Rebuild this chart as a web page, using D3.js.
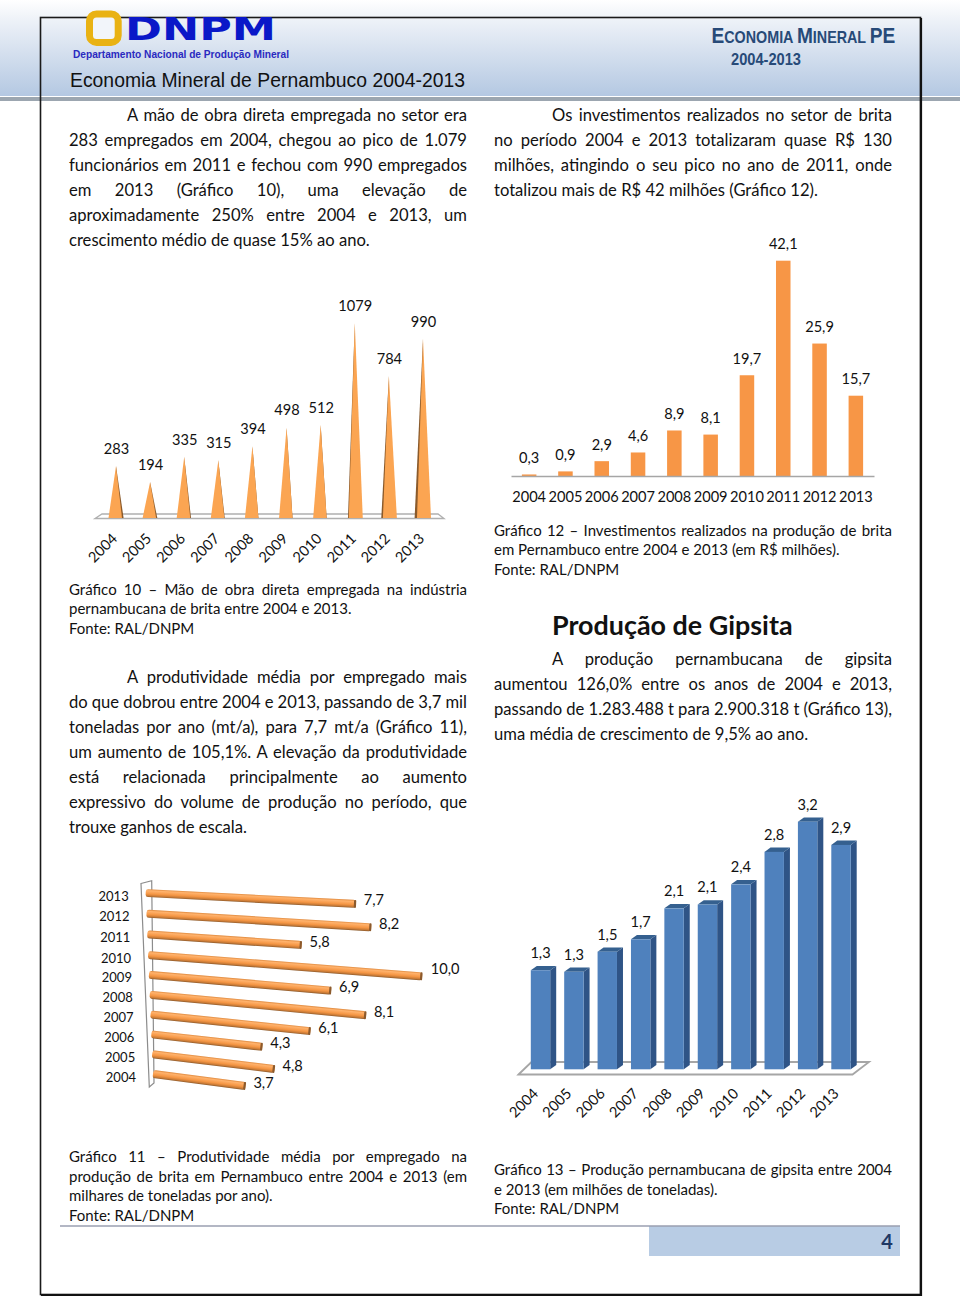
<!DOCTYPE html>
<html><head><meta charset="utf-8">
<script src="https://cdn.jsdelivr.net/npm/d3@7"></script>
<style>html,body{margin:0;background:#fff}svg{display:block}text{font-family:Lato,sans-serif;fill:#111}</style>
</head><body><svg id="p" width="960" height="1299"></svg>
<script>
const years=[2004,2005,2006,2007,2008,2009,2010,2011,2012,2013];
const workers=[283,194,335,315,394,498,512,1079,784,990];
const invest=[0.3,0.9,2.9,4.6,8.9,8.1,19.7,42.1,25.9,15.7];
const productivity=[3.7,4.8,4.3,6.1,8.1,6.9,10.0,5.8,8.2,7.7];
const gypsum=[1.28,1.26,1.52,1.68,2.08,2.13,2.39,2.81,3.2,2.9];
const comma=f=>v=>d3.format(f)(v).replace(".",",");

const B=16.6,C=15.0; // text sizes
// [text, column, centre y, indent, justified, size]
const textLines=[
["A mão de obra direta empregada no setor era",0,115,1,1,B],
["283 empregados em 2004, chegou ao pico de 1.079",0,140,0,1,B],
["funcionários em 2011 e fechou com 990 empregados",0,165,0,1,B],
["em 2013 (Gráfico 10), uma elevação de",0,190,0,1,B],
["aproximadamente 250% entre 2004 e 2013, um",0,215,0,1,B],
["crescimento médio de quase 15% ao ano.",0,240,0,0,B],
["Os investimentos realizados no setor de brita",1,115,1,1,B],
["no período 2004 e 2013 totalizaram quase R$ 130",1,140,0,1,B],
["milhões, atingindo o seu pico no ano de 2011, onde",1,165,0,1,B],
["totalizou mais de R$ 42 milhões (Gráfico 12).",1,190,0,0,B],
["Gráfico 10 – Mão de obra direta empregada na indústria",0,590,0,1,C],
["pernambucana de brita entre 2004 e 2013.",0,609,0,0,C],
["Fonte: RAL/DNPM",0,629,0,0,C],
["A produtividade média por empregado mais",0,677,1,1,B],
["do que dobrou entre 2004 e 2013, passando de 3,7 mil",0,702,0,1,B],
["toneladas por ano (mt/a), para 7,7 mt/a (Gráfico 11),",0,727,0,1,B],
["um aumento de 105,1%. A elevação da produtividade",0,752,0,1,B],
["está relacionada principalmente ao aumento",0,777,0,1,B],
["expressivo do volume de produção no período, que",0,802,0,1,B],
["trouxe ganhos de escala.",0,827,0,0,B],
["Gráfico 11 – Produtividade média por empregado na",0,1157,0,1,C],
["produção de brita em Pernambuco entre 2004 e 2013 (em",0,1177,0,1,C],
["milhares de toneladas por ano).",0,1196,0,0,C],
["Fonte: RAL/DNPM",0,1216,0,0,C],
["Gráfico 12 – Investimentos realizados na produção de brita",1,531,0,1,C],
["em Pernambuco entre 2004 e 2013 (em R$ milhões).",1,550,0,0,C],
["Fonte: RAL/DNPM",1,570,0,0,C],
["A produção pernambucana de gipsita",1,659,1,1,B],
["aumentou 126,0% entre os anos de 2004 e 2013,",1,684,0,1,B],
["passando de 1.283.488 t para 2.900.318 t (Gráfico 13),",1,709,0,1,B],
["uma média de crescimento de 9,5% ao ano.",1,734,0,0,B],
["Gráfico 13 – Produção pernambucana de gipsita entre 2004",1,1170,0,1,C],
["e 2013 (em milhões de toneladas).",1,1190,0,0,C],
["Fonte: RAL/DNPM",1,1209,0,0,C]
];
const svg=d3.select("#p"), defs=svg.append("defs");
const lg=(id,stops)=>{const g=defs.append("linearGradient").attr("id",id).attr("x1",0).attr("x2",0).attr("y1",0).attr("y2",1);
 stops.forEach(s=>g.append("stop").attr("offset",s[0]).attr("stop-color",s[1]));};
lg("hdr",[[0,"#ffffff"],[.2,"#eef2f8"],[1,"#b4c8e2"]]);
lg("cyl",[[0,"#e08a3e"],[.2,"#ffb26c"],[.6,"#f59644"],[.85,"#c87a36"],[1,"#8c5a2c"]]);

// header
svg.append("rect").attr("width",960).attr("height",96).attr("fill","url(#hdr)");
svg.append("rect").attr("y",97).attr("width",960).attr("height",4).attr("fill","#9ca6b0");
// frame
svg.append("rect").attr("x",40.5).attr("y",17.5).attr("width",880).attr("height",1277).attr("fill","none").attr("stroke","#1a1a1a").attr("stroke-width",1.6);
svg.append("path").attr("d","M921 18V1295H41").attr("fill","none").attr("stroke","#111").attr("stroke-width",2.2);
// logo
svg.append("rect").attr("x",89.5).attr("y",14).attr("width",28.7).attr("height",28.4).attr("rx",7).attr("fill","#f2f5fa").attr("stroke","#e9b213").attr("stroke-width",7);
svg.append("text").text("DNPM").attr("x",125).attr("y",40).attr("textLength",151).attr("lengthAdjust","spacingAndGlyphs")
 .style("font-family","DejaVu Sans").style("font-weight",700).style("font-size","32px").style("fill","#0a18c8");
svg.append("text").text("Departamento Nacional de Produção Mineral").attr("x",73).attr("y",58).attr("textLength",216).attr("lengthAdjust","spacingAndGlyphs")
 .style("font-family","Liberation Sans").style("font-weight",700).style("font-size","11px").style("fill","#2a2ac0");
svg.append("text").text("Economia Mineral de Pernambuco 2004-2013").attr("x",70).attr("y",87).attr("textLength",395).attr("lengthAdjust","spacingAndGlyphs")
 .style("font-family","Liberation Sans").style("font-size","20px").style("fill","#111");
const hr=svg.append("text").style("font-family","Liberation Sans").style("font-weight",700).style("fill","#274a78");
[["E",22],["CONOMIA ",16.5],["M",22],["INERAL ",16.5],["PE",22]].forEach(s=>hr.append("tspan").text(s[0]).style("font-size",s[1]+"px").style("fill","#274a78"));
hr.attr("transform",`translate(711.5,43) scale(${184/hr.node().getComputedTextLength()},1)`);
svg.append("text").text("2004-2013").attr("x",731).attr("y",65).attr("textLength",70).attr("lengthAdjust","spacingAndGlyphs")
 .style("font-family","Liberation Sans").style("font-weight",700).style("font-size","17px").style("fill","#274a78");

// body text
const cols=[[69,467],[494,892]], indent=58;
textLines.forEach(l=>{
 const [s,c,y,ind,just,size]=l, x0=cols[c][0]+(ind?indent:0), x1=cols[c][1];
 const t=svg.append("text").text(s).attr("x",x0).attr("y",y+(size==B?6:5.4)).style("font-size",size+"px");
 if(just){const w=t.node().getComputedTextLength(), gaps=s.split(" ").length-1;
  t.style("word-spacing",((x1-x0-w)/gaps)+"px");}
});
svg.append("text").text("Produção de Gipsita").attr("x",552).attr("y",635).style("font-weight",700).style("font-size","26.9px");

// footer
svg.append("rect").attr("x",649).attr("y",1226).attr("width",251).attr("height",30).attr("fill","#b8cce4");
svg.append("line").attr("x1",60).attr("x2",900).attr("y1",1226).attr("y2",1226).attr("stroke","#9a9fb0").attr("stroke-width",1.5);
svg.append("text").text("4").attr("x",887).attr("y",1249).attr("text-anchor","middle").style("font-weight",700).style("font-size","20px").style("fill","#1f3864");

const LAB=14.6;
const yearAxis=(g,x,y,dx)=>{g.attr("transform",`translate(0,${y})`).call(d3.axisBottom(x).tickSize(0).tickPadding(0)).call(a=>a.select(".domain").remove());
 g.selectAll("text").attr("x",0).attr("y",0).attr("dy",".35em").attr("text-anchor","end").attr("transform",`translate(${dx},0) rotate(-45)`)
  .style("font-family","Lato").style("font-size",LAB+"px").style("fill","#111");};

// Chart 10: pyramids
{const x=d3.scalePoint().domain(years).range([116,423]), y=d3.scaleLinear().domain([0,1079]).range([517,323]);
 const side=d3.scaleLinear().domain([2004,2008,2010,2013]).range([1.6,0,0,-2.4]);
 svg.append("path").attr("d","M95 518.5L102 514H438L444 518.5Z").attr("fill","#fff").attr("stroke","#b0b0b0").attr("stroke-width",1.3);
 const g=svg.append("g").selectAll("g").data(years).join("g");
 g.append("path").attr("fill","#8a5a2b").attr("d",(d,i)=>{const s=side(d),c=x(d);
   return `M${c} ${y(workers[i])}L${s>=0?c+6+s:c-6+s} ${y(0)+1}L${c} ${y(0)+1}Z`;});
 g.append("path").attr("fill","#fba552").attr("d",(d,i)=>{const s=side(d),c=x(d);
   return `M${c} ${y(workers[i])}L${s>=0?c-7.5:c-6} ${y(0)+1}L${s>=0?c+6:c+8} ${y(0)+1}Z`;});
 svg.append("g").selectAll("text").data(years).join("text").text((d,i)=>workers[i])
  .attr("x",d=>x(d)+.5).attr("y",(d,i)=>y(workers[i])-12).attr("text-anchor","middle").style("font-size",LAB+"px");
 svg.append("g").call(yearAxis,x,536,-2);
}
// Chart 12: bars
{const x=d3.scaleBand().domain(years).range([511,874]).paddingInner(.6).paddingOuter(.3), y=d3.scaleLinear().domain([0,42.1]).range([476,260.7]);
 svg.append("g").selectAll("rect").data(years).join("rect").attr("x",d=>x(d)).attr("width",x.bandwidth())
  .attr("y",(d,i)=>y(invest[i])).attr("height",(d,i)=>y(0)-y(invest[i])).attr("fill","#f79646");
 svg.append("g").selectAll("text").data(years).join("text").text((d,i)=>comma(".1f")(invest[i]))
  .attr("x",d=>x(d)+x.bandwidth()/2).attr("y",(d,i)=>y(invest[i])-11.5).attr("text-anchor","middle").style("font-size",LAB+"px");
 const a=svg.append("g").attr("transform","translate(0,476)").call(d3.axisBottom(x).tickSize(0).tickPadding(15.5));
 a.select(".domain").attr("stroke","#a6a6a6").attr("stroke-width",1.5);
 a.selectAll("text").style("font-family","Lato").style("font-size",LAB+"px").style("fill","#111");
}
// Chart 11: tilted cylinders
{const sx=d3.scaleLinear().domain([2004,2013]).range([153,145.7]),
  sy=d3.scaleLinear().domain([2004,2010,2013]).range([1074,955,893]),
  slope=d3.scaleLinear().domain([2004,2013]).range([.13,.052]),
  unit=d3.scaleOrdinal().domain(years).range([25,25.5,25.8,26.2,26.7,26.4,27.4,26.6,27.4,27.3]);
 svg.append("path").attr("d","M141 883.5L151.7 880.7L154 1083L149.3 1087Z").attr("fill","none").attr("stroke","#8c8c8c").attr("stroke-width",1.2);
 const g=svg.append("g").selectAll("g").data(years).join("g")
  .attr("transform",d=>`translate(${sx(d)},${sy(d)}) rotate(${Math.atan(slope(d))*180/Math.PI})`);
 const len=(d,i)=>productivity[i]*unit(d)/Math.cos(Math.atan(slope(d)));
 g.append("rect").attr("x",0).attr("y",-4).attr("height",8).attr("rx",2.5).attr("width",len).attr("fill","url(#cyl)");
 g.append("rect").attr("x",(d,i)=>len(d,i)-2).attr("y",-4).attr("height",8).attr("width",2.2).attr("rx",1).attr("fill","#8c5a2c");
 const endX=(d,i)=>sx(d)+productivity[i]*unit(d), endY=(d,i)=>sy(d)+productivity[i]*unit(d)*slope(d);
 svg.append("g").selectAll("text").data(years).join("text").text((d,i)=>comma(".1f")(productivity[i]))
  .attr("x",(d,i)=>endX(d,i)+18+(d==2010?5:0)).attr("y",(d,i)=>endY(d,i)+1.5-(d==2010?4:0)).attr("text-anchor","middle").style("font-size",LAB+"px");
 svg.append("g").selectAll("text").data(years).join("text").text(d=>d)
  .attr("x",d=>sx(d)-17).attr("y",d=>sy(d)+7.5).attr("text-anchor","end").style("font-size","13px");
}
// Chart 13: 3D columns
{const x=d3.scalePoint().domain(years).range([540.5,841]), y=d3.scaleLinear().domain([0,3.2]).range([1069.3,821.7]);
 const w=9.7,dx=6,dy=4.3;
 svg.append("path").attr("d","M518.5 1074.5L531.5 1062H869L852.5 1074.5Z").attr("fill","none").attr("stroke","#a6a6a6").attr("stroke-width",1.8);
 const g=svg.append("g").selectAll("g").data(years).join("g");
 g.append("path").attr("fill","#2f5486").attr("d",(d,i)=>{const r=x(d)+w,t=y(gypsum[i]),b=y(0);
   return `M${r} ${t}L${r+dx} ${t-dy}V${b-dy}L${r} ${b}Z`;});
 g.append("path").attr("fill","#35608f").attr("d",(d,i)=>{const l=x(d)-w,r=x(d)+w,t=y(gypsum[i]);
   return `M${l} ${t}L${l+dx} ${t-dy}H${r+dx}L${r} ${t}Z`;});
 g.append("rect").attr("x",d=>x(d)-w).attr("width",2*w).attr("y",(d,i)=>y(gypsum[i])).attr("height",(d,i)=>y(0)-y(gypsum[i])).attr("fill","#4f81bd");
 svg.append("g").selectAll("text").data(years).join("text").text((d,i)=>comma(".1f")(gypsum[i]))
  .attr("x",d=>x(d)).attr("y",(d,i)=>y(gypsum[i])-12).attr("text-anchor","middle").style("font-size",LAB+"px");
 svg.append("g").call(yearAxis,x,1091,-5.5);
}
</script></body></html>
